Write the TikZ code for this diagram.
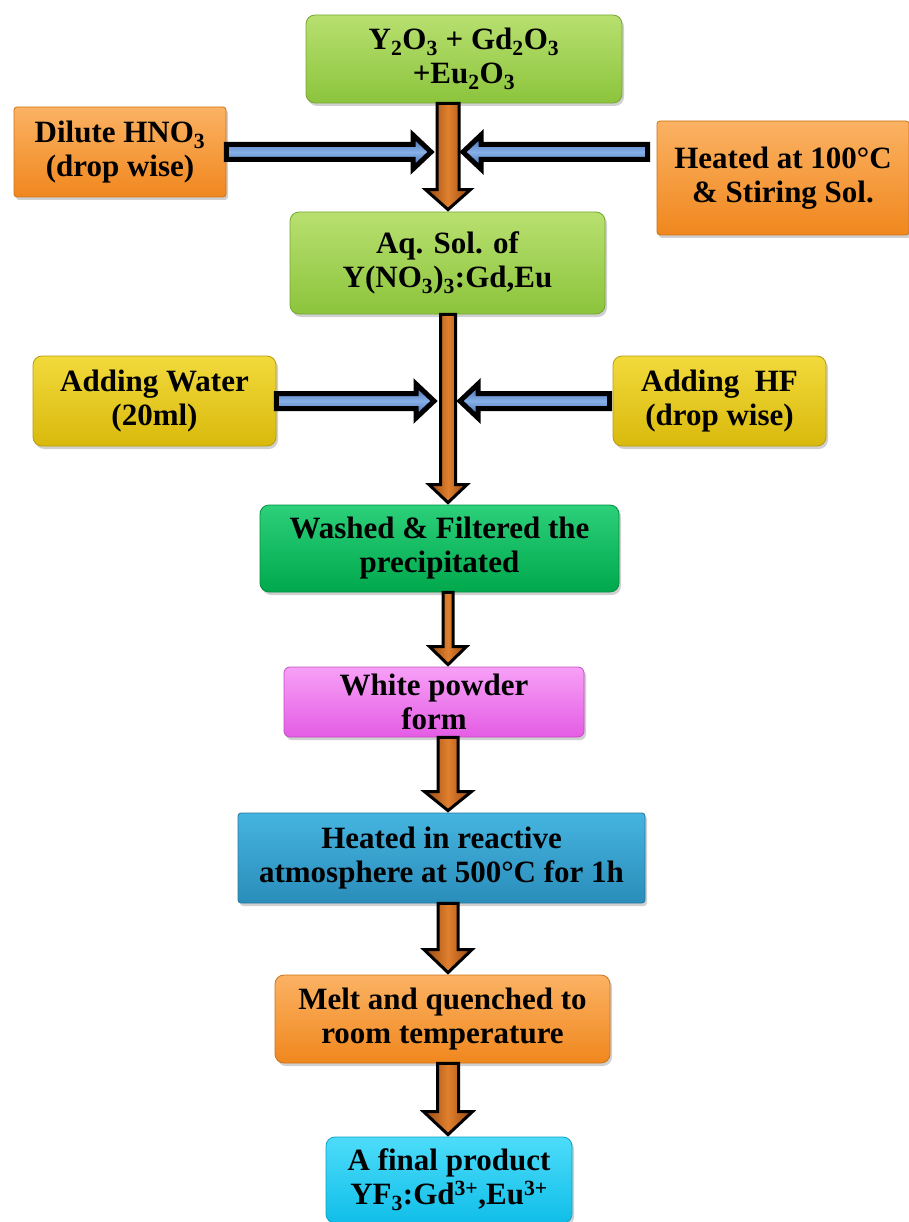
\documentclass[tikz,border=0pt]{standalone}
\usepackage{fontspec}
\setmainfont{Liberation Serif}
\usetikzlibrary{calc,shadows}

\definecolor{limeT}{HTML}{B8E070}
\definecolor{limeB}{HTML}{8CC43C}
\definecolor{orangeT}{HTML}{FBB263}
\definecolor{orangeB}{HTML}{F0871E}
\definecolor{yellowT}{HTML}{F2DA3C}
\definecolor{yellowB}{HTML}{D9B90C}
\definecolor{greenT}{HTML}{2CD07A}
\definecolor{greenB}{HTML}{00A84C}
\definecolor{pinkT}{HTML}{F7A0F7}
\definecolor{pinkB}{HTML}{E45CE4}
\definecolor{blueT}{HTML}{46B4E0}
\definecolor{blueB}{HTML}{2A8DBA}
\definecolor{cyanT}{HTML}{4DDCFA}
\definecolor{cyanB}{HTML}{10BEE8}
\definecolor{brownL}{HTML}{E0802E}
\definecolor{brownD}{HTML}{944610}
\definecolor{arrowblueL}{HTML}{86B0E8}
\definecolor{arrowblueD}{HTML}{3A62A6}

\tikzset{
  stepbox/.style={rounded corners=9pt, align=center, inner sep=0pt,
    font=\bfseries\fontsize{31}{34}\selectfont, text=black, line width=0.8pt,
    drop shadow={shadow xshift=2pt, shadow yshift=-3pt, opacity=0.3, fill=black!60}},
  limebox/.style={stepbox, top color=limeT, bottom color=limeB, draw=limeB!85!black},
  orangebox/.style={stepbox, top color=orangeT, bottom color=orangeB, draw=orangeB!85!black},
  yellowbox/.style={stepbox, top color=yellowT, bottom color=yellowB, draw=yellowB!85!black},
  greenbox/.style={stepbox, top color=greenT, bottom color=greenB, draw=greenB!85!black},
  pinkbox/.style={stepbox, top color=pinkT, bottom color=pinkB, draw=pinkB!85!black},
  bluebox/.style={stepbox, top color=blueT, bottom color=blueB, draw=blueB!85!black},
  cyanbox/.style={stepbox, top color=cyanT, bottom color=cyanB, draw=cyanB!85!black},
  brownarrow/.style={draw=black, line width=3pt, line join=miter,
    left color=brownD, right color=brownD, middle color=brownL},
  bluearrow/.style={draw=black, line width=5pt, line join=miter,
    top color=arrowblueD, bottom color=arrowblueD, middle color=arrowblueL}
}

% main downward arrow: from, to, half shaft, half head, head length
\newcommand{\flowdown}[5]{%
  \draw[brownarrow] let \p1=(#1.south -| spine), \p2=(#2.north -| spine) in
    (\x1-#3,\y1) -- (\x1-#3,\y2+#5) -- (\x1-#4,\y2+#5) -- (\x1,\y2+2pt) --
    (\x1+#4,\y2+#5) -- (\x1+#3,\y2+#5) -- (\x1+#3,\y1) -- cycle;}

% side arrow: start, tip, direction (1 = to the right, -1 = to the left)
\newcommand{\flowside}[3]{%
  \draw[bluearrow] let \p1=(#1), \p2=(#2) in
    (\x1,{\y1+7.5pt}) -- ({\x2-#3*18pt},{\y1+7.5pt}) -- ({\x2-#3*18pt},{\y1+17pt}) --
    (\x2,\y1) -- ({\x2-#3*18pt},{\y1-17pt}) -- ({\x2-#3*18pt},{\y1-7.5pt}) --
    (\x1,{\y1-7.5pt}) -- cycle;}

\begin{document}
\begin{tikzpicture}[x=1pt,y=-1pt]
\fill[white] (0,0) rectangle (909,1222);
\useasboundingbox (0,0) rectangle (909,1222);
\coordinate (spine) at (448,0);

% steps
\node[limebox, minimum width=316pt, minimum height=88pt] (oxides) at (464,59)
  {Y\textsubscript{2}O\textsubscript{3} + Gd\textsubscript{2}O\textsubscript{3}\\+Eu\textsubscript{2}O\textsubscript{3}};
\node[orangebox, rounded corners=3pt, minimum width=212pt, minimum height=90pt] (hno3) at (120,152)
  {Dilute HNO\textsubscript{3}\\(drop wise)};
\node[orangebox, rounded corners=3pt, minimum width=252pt, minimum height=114pt] (heat100) at (783,178)
  {Heated at 100°C\\\& Stiring Sol.};
\node[limebox, minimum width=315pt, minimum height=102pt] (nitrate) at (447.5,263)
  {Aq. Sol. of\\Y(NO\textsubscript{3})\textsubscript{3}:Gd,Eu};
\node[yellowbox, minimum width=243pt, minimum height=90pt] (water) at (154.5,401)
  {Adding Water\\(20ml)};
\node[yellowbox, minimum width=213pt, minimum height=90pt] (hf) at (719.5,401)
  {Adding~ HF\\(drop wise)};
\node[greenbox, minimum width=359pt, minimum height=87pt] (washed) at (439.5,548.5)
  {Washed \& Filtered the\\precipitated};
\node[pinkbox, rounded corners=6pt, minimum width=300pt, minimum height=70pt] (powder) at (434,702)
  {White powder\\form};
\node[bluebox, rounded corners=3pt, minimum width=407pt, minimum height=90pt] (heat500) at (441.5,858)
  {Heated in reactive\\atmosphere at 500°C for 1h};
\node[orangebox, minimum width=335pt, minimum height=88pt] (melt) at (442.5,1019)
  {Melt and quenched to\\room temperature};
\node[cyanbox, minimum width=246pt, minimum height=86pt] (product) at (449,1180)
  {A final product\\YF\textsubscript{3}:Gd\textsuperscript{3+},Eu\textsuperscript{3+}};

% main flow
\flowdown{oxides}{nitrate}{11pt}{22.5pt}{22pt}
\flowdown{nitrate}{washed}{7.5pt}{19pt}{20pt}
\flowdown{washed}{powder}{5pt}{18.5pt}{20pt}
\flowdown{powder}{heat500}{10pt}{23.5pt}{21pt}
\flowdown{heat500}{melt}{10pt}{24pt}{25pt}
\flowdown{melt}{product}{10.5pt}{24.5pt}{25pt}

% side inputs
\flowside{hno3.east}{$(hno3.east -| spine)+(-17,0)$}{1}
\flowside{$(heat100.west |- hno3.east)+(-9,0)$}{$(hno3.east -| spine)+(15,0)$}{-1}
\flowside{water.east}{$(water.east -| spine)+(-14,0)$}{1}
\flowside{$(hf.west)+(-3,0)$}{$(hf.west -| spine)+(12,0)$}{-1}
\end{tikzpicture}
\end{document}
